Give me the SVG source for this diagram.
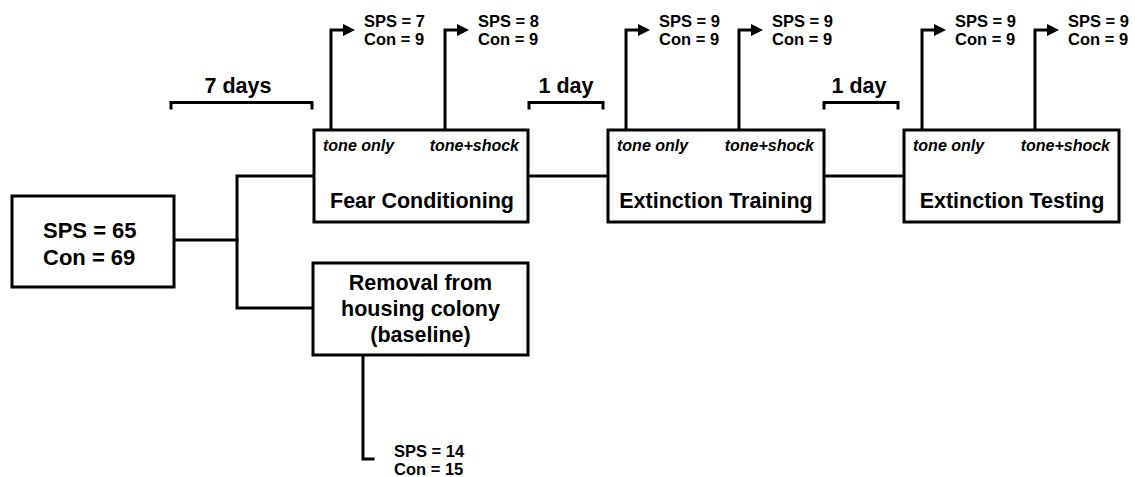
<svg xmlns="http://www.w3.org/2000/svg" width="1135" height="477" viewBox="0 0 1135 477">
<style>
  .box { fill: #fff; stroke: #000; stroke-width: 3; }
  .ln { fill: none; stroke: #000; stroke-width: 3; stroke-linecap: square; stroke-linejoin: miter; }
  .ah { fill: #000; stroke: none; }
  .big { font-family: "Liberation Sans", Arial, sans-serif; font-weight: bold; font-size: 21.5px; fill: #000; }
  .n { font-family: "Liberation Sans", Arial, sans-serif; font-weight: bold; font-size: 16.5px; fill: #000; }
  .it { font-family: "Liberation Sans", Arial, sans-serif; font-weight: bold; font-style: italic; font-size: 16px; fill: #000; }
  .c { text-anchor: middle; }
  .e { text-anchor: end; }
</style>
<defs>
  <polygon id="head" class="ah" points="0,-6 12,0 0,6"/>
</defs>
<rect width="1135" height="477" fill="#fff"/>

<g id="connectors">
  <path class="ln" d="M174,240 H237"/>
  <path class="ln" d="M314,176 H237 V308 H313"/>
  <path class="ln" d="M528,176 H608"/>
  <path class="ln" d="M824,176 H904"/>
  <path class="ln" d="M363,355 V459 H373"/>
  <path class="ln" d="M331,130 V30 H343"/>
  <use href="#head" x="343" y="30"/>
  <path class="ln" d="M445,130 V30 H457"/>
  <use href="#head" x="457" y="30"/>
  <path class="ln" d="M626,130 V30 H638"/>
  <use href="#head" x="638" y="30"/>
  <path class="ln" d="M739,130 V30 H751"/>
  <use href="#head" x="751" y="30"/>
  <path class="ln" d="M922,130 V30 H934"/>
  <use href="#head" x="934" y="30"/>
  <path class="ln" d="M1035,130 V30 H1047"/>
  <use href="#head" x="1047" y="30"/>
</g>

<g id="brackets">
  <path class="ln" d="M171,108 V102.5 H312 V108"/>
  <text class="big c" x="238" y="93">7 days</text>
  <path class="ln" d="M529,108 V102.5 H603 V108"/>
  <text class="big c" x="566" y="93">1 day</text>
  <path class="ln" d="M824,108 V102.5 H898 V108"/>
  <text class="big c" x="859" y="93">1 day</text>
</g>

<g id="start">
  <rect class="box" x="12" y="196" width="162" height="91"/>
  <text class="big" x="43" y="238" style="font-size:22px">SPS = 65</text>
  <text class="big" x="43" y="265" style="font-size:22px">Con = 69</text>
</g>

<g id="fear">
  <rect class="box" x="314" y="130" width="214" height="92"/>
  <text class="it" x="323" y="151">tone only</text>
  <text class="it e" x="519" y="151">tone+shock</text>
  <text class="big c" x="422" y="208">Fear Conditioning</text>
</g>

<g id="exttrain">
  <rect class="box" x="608" y="130" width="216" height="92"/>
  <text class="it" x="617" y="151">tone only</text>
  <text class="it e" x="814" y="151">tone+shock</text>
  <text class="big c" x="716" y="208">Extinction Training</text>
</g>

<g id="exttest">
  <rect class="box" x="904" y="130" width="215" height="92"/>
  <text class="it" x="913" y="151">tone only</text>
  <text class="it e" x="1110" y="151">tone+shock</text>
  <text class="big c" x="1012" y="208">Extinction Testing</text>
</g>

<g id="removal">
  <rect class="box" x="313" y="263" width="215" height="92"/>
  <text class="big c" x="420.5" y="290">Removal from</text>
  <text class="big c" x="420.5" y="316">housing colony</text>
  <text class="big c" x="420.5" y="342">(baseline)</text>
</g>

<g id="counts">
  <text class="n" x="364" y="27">SPS = 7</text>
  <text class="n" x="364" y="45">Con = 9</text>
  <text class="n" x="478" y="27">SPS = 8</text>
  <text class="n" x="478" y="45">Con = 9</text>
  <text class="n" x="659" y="27">SPS = 9</text>
  <text class="n" x="659" y="45">Con = 9</text>
  <text class="n" x="772" y="27">SPS = 9</text>
  <text class="n" x="772" y="45">Con = 9</text>
  <text class="n" x="955" y="27">SPS = 9</text>
  <text class="n" x="955" y="45">Con = 9</text>
  <text class="n" x="1068" y="27">SPS = 9</text>
  <text class="n" x="1068" y="45">Con = 9</text>
  <text class="n" x="394" y="457">SPS = 14</text>
  <text class="n" x="394" y="475">Con = 15</text>
</g>
</svg>
